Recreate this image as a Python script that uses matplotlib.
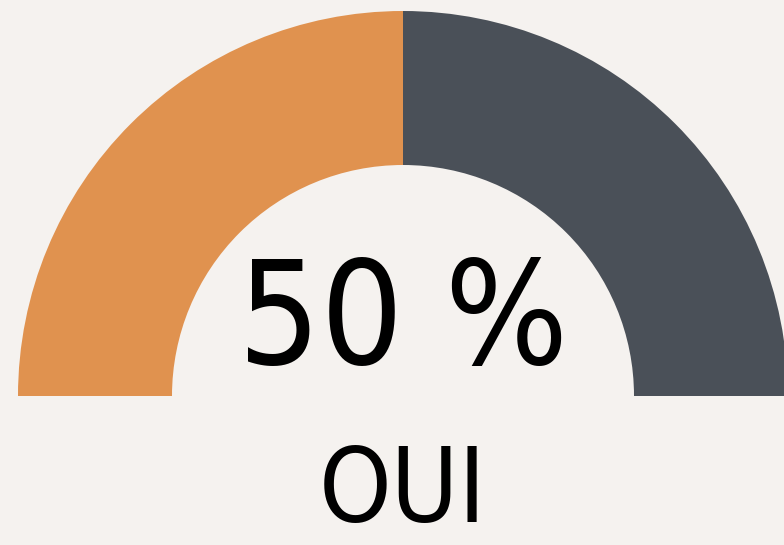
import matplotlib.pyplot as plt
from matplotlib.patches import Wedge
from matplotlib import font_manager

# donnees de la jauge
labels = ["OUI", "NON"]
values = [50, 50]
colors = ["#e0924f", "#4a5058"]
value_text = "50 %"
label_text = "OUI"

bg = "#f5f2ef"

# police etroite si dispo
names = {f.name for f in font_manager.fontManager.ttflist}
if "Liberation Sans Narrow" in names:
    font = dict(family="Liberation Sans Narrow")
else:
    font = dict(family="DejaVu Sans", stretch="condensed")

fig = plt.figure(figsize=(7.84, 5.45), dpi=100, facecolor=bg)
ax = fig.add_axes([0, 0, 1, 1])
ax.set_facecolor(bg)
ax.set_xlim(0, 784)
ax.set_ylim(0, 545)
ax.set_aspect("equal")
ax.axis("off")

cx, cy = 403, 149
r_out, r_in = 385, 231

# demi-cercle: de 180 a 0 degres, dans le sens horaire
total = sum(values)
start = 180
for v, c in zip(values, colors):
    span = 180 * v / total
    ax.add_patch(Wedge((cx, cy), r_out, start - span, start,
                       width=r_out - r_in, facecolor=c, edgecolor="none"))
    start -= span

ax.text(cx, 181, value_text, ha="center", va="baseline", fontsize=104,
        color="black", **font)
ax.text(cx, 1, label_text, ha="center", va="bottom", fontsize=74,
        color="black", **font)

plt.savefig("out.png", dpi=100, facecolor=bg)
